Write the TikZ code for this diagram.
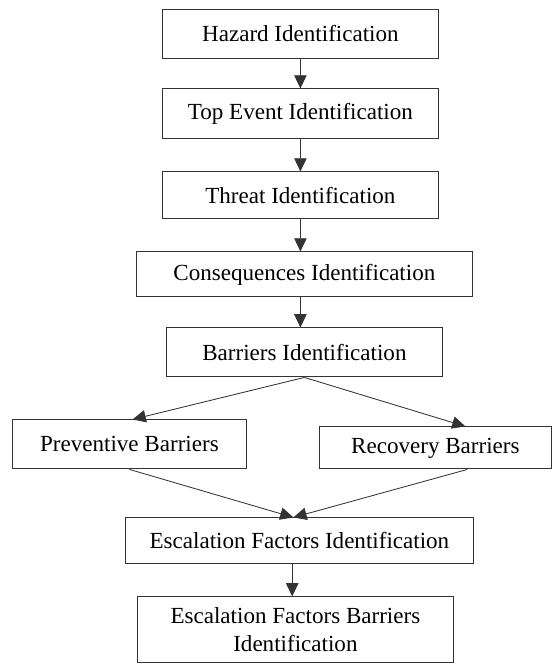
\documentclass[tikz,border=0pt]{standalone}
\usepackage{fontspec}
\setmainfont{Liberation Serif}
\usepackage{tikz}
\usetikzlibrary{arrows.meta}
\usetikzlibrary{positioning}
\tikzset{
    arrow/.style={-{Triangle[length=3.3mm,width=3.1mm]}, line width=0.6pt, draw=black!80},
    box/.style = {
      rectangle,
      draw=black!80,
      line width=0.7pt,
      minimum height=1.2cm,
      inner sep=2pt,
      font=\fontsize{16.4}{19.7}\selectfont,
      align=center
    },
}
\begin{document}
\begin{tikzpicture}
      \useasboundingbox (0,0) rectangle (13.8,-16.6);

      \node [box, minimum width=6.88cm, minimum height=1.225cm] (hazard) at (7.51,-0.8375) {Hazard Identification};

      \node [
        box,
        minimum width=6.9cm,
        minimum height=1.25cm,
        below=0.75cm of hazard,
      ] (topevent) {Top Event Identification};

      \node [
        box,
        minimum width=6.88cm,
        minimum height=1.175cm,
        below=0.8cm of topevent,
      ] (threat) {Threat Identification};

      \node [
        box,
        minimum width=8.38cm,
        minimum height=1.125cm,
        below=0.8cm of threat,
        xshift=0.1cm,
      ] (consequences) {Consequences Identification};

      \node [
        box,
        minimum width=6.9cm,
        minimum height=1.225cm,
        below=0.75cm of consequences,
      ] (barriers) {Barriers Identification};

      \node [
        box,
        minimum width=5.85cm,
        minimum height=1.225cm,
        below=1.05cm of barriers,
        xshift=-4.375cm,
      ] (preventive) {Preventive Barriers};

      \node [
        box,
        minimum width=5.8cm,
        minimum height=1.05cm,
        below=1.225cm of barriers,
        xshift=3.275cm,
      ] (recovery) {Recovery Barriers};

      \node [
        box,
        minimum width=8.7cm,
        minimum height=1.15cm,
        below=1.2cm of preventive,
        xshift=4.25cm,
      ] (escalation) {Escalation Factors Identification};

      \node [
        box,
        minimum width=7.9cm,
        minimum height=1.65cm,
        below=0.8cm of escalation,
        xshift=-0.1cm,
      ] (efbarriers) {Escalation Factors Barriers\\Identification};

      \draw[arrow] (hazard.south) -- (topevent.north);
      \draw[arrow] (topevent.south) -- (threat.north);
      \draw[arrow] (threat.south) -- (threat.south |- consequences.north);
      \draw[arrow] (threat.south |- consequences.south) -- (threat.south |- barriers.north);

      \draw[arrow] (barriers.south) -- ([xshift=0.08cm]preventive.north);
      \draw[arrow] (barriers.south) -- ([xshift=0.75cm]recovery.north);
      \draw[arrow] (preventive.south) -- ([xshift=-0.15cm]escalation.north);
      \draw[arrow] ([xshift=0.8cm]recovery.south) -- ([xshift=-0.15cm]escalation.north);

      \draw[arrow] ([xshift=-0.18cm]escalation.south) -- ([xshift=-0.18cm]escalation.south |- efbarriers.north);
    \end{tikzpicture}
\end{document}
